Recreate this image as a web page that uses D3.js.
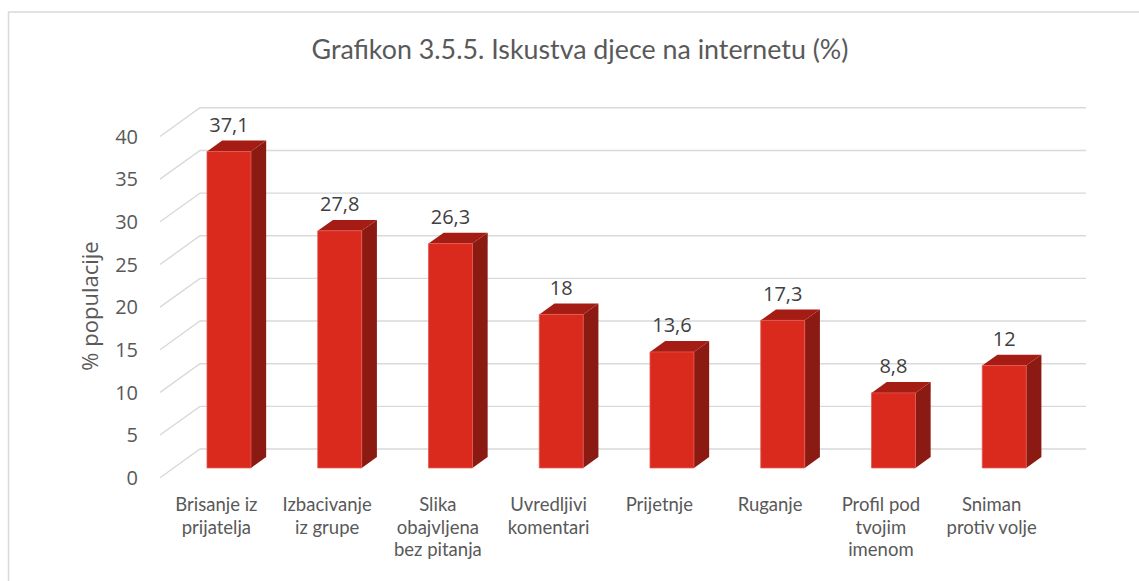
<!DOCTYPE html>
<html>
<head>
<meta charset="utf-8">
<script src="https://cdn.jsdelivr.net/npm/d3@7"></script>
<style>
  html, body { margin: 0; padding: 0; background: #fff; }
  svg { display: block; }
</style>
</head>
<body>
<svg id="chart" width="1139" height="581"></svg>
<script>
// ---- data ----
const title = "Grafikon 3.5.5. Iskustva djece na internetu (%)";
const yAxisTitle = "% populacije";
const categories = [
  "Brisanje iz\nprijatelja",
  "Izbacivanje\niz grupe",
  "Slika\nobajvljena\nbez pitanja",
  "Uvredljivi\nkomentari",
  "Prijetnje",
  "Ruganje",
  "Profil pod\ntvojim\nimenom",
  "Sniman\nprotiv volje"
];
const values = [37.1, 27.8, 26.3, 18, 13.6, 17.3, 8.8, 12];
const valueLabels = ["37,1", "27,8", "26,3", "18", "13,6", "17,3", "8,8", "12"];
const yTicks = [0, 5, 10, 15, 20, 25, 30, 35, 40];

// ---- layout ----
const svg = d3.select("#chart");
const W = 1139, H = 581;
const frontLeft = 160, frontRight = 1046;
const depthX = 40, depthY = -28.7;   // full depth vector of the 3D box
const t0 = 0.34, t1 = 0.72;           // bar depth range (fraction)

const x = d3.scaleBand().domain(categories).range([frontLeft, frontRight])
  .paddingInner(0.603).paddingOuter(0.3015);
const y = d3.scaleLinear().domain([0, 40]).range([477.7, 136.5]);

const proj = (xf, v, t) => [xf + t * depthX, y(v) + t * depthY];

// chart border
svg.append("rect")
  .attr("x", 8.5).attr("y", 12).attr("width", W + 20).attr("height", H + 20)
  .attr("fill", "#fff").attr("stroke", "#d9d9d9").attr("stroke-width", 1.5);

// title
svg.append("text")
  .attr("x", 580).attr("y", 58.5)
  .attr("text-anchor", "middle")
  .attr("font-family", "Lato, 'Noto Sans', sans-serif")
  .attr("font-size", 26.8)
  .attr("fill", "#595959")
  .text(title);

// gridlines (side wall diagonal + back wall horizontal)
const grid = svg.append("g").attr("stroke", "#d9d9d9").attr("stroke-width", 1.4).attr("fill", "none");
yTicks.forEach(v => {
  const a = proj(frontLeft, v, 0), b = proj(frontLeft, v, 1), c = proj(frontRight, v, 1);
  grid.append("path").attr("d", `M${a[0]},${a[1]}L${b[0]},${b[1]}L${c[0]},${c[1]}`);
});

// y tick labels
svg.append("g").selectAll("text").data(yTicks).join("text")
  .attr("x", 138).attr("y", d => y(d)).attr("dy", "0.36em")
  .attr("text-anchor", "end")
  .attr("font-family", "'Open Sans', sans-serif")
  .attr("font-size", 20)
  .attr("fill", "#595959")
  .text(d => d);

// y axis title
svg.append("text")
  .attr("transform", "translate(98,306) rotate(-90)")
  .attr("text-anchor", "middle")
  .attr("font-family", "'Open Sans', sans-serif")
  .attr("font-size", 22)
  .attr("fill", "#595959")
  .text(yAxisTitle);

// bars
const bw = x.bandwidth();
const poly = pts => "M" + pts.map(p => p.join(",")).join("L") + "Z";
const bars = svg.append("g");
categories.forEach((c, i) => {
  const v = values[i];
  const x0 = x(c), x1 = x0 + bw;
  // side face
  bars.append("path")
    .attr("d", poly([proj(x1, 0, t0), proj(x1, 0, t1), proj(x1, v, t1), proj(x1, v, t0)]))
    .attr("fill", "#8b1a13");
  // top face
  bars.append("path")
    .attr("d", poly([proj(x0, v, t0), proj(x1, v, t0), proj(x1, v, t1), proj(x0, v, t1)]))
    .attr("fill", "#a51c14");
  // front face
  bars.append("path")
    .attr("d", poly([proj(x0, 0, t0), proj(x1, 0, t0), proj(x1, v, t0), proj(x0, v, t0)]))
    .attr("fill", "#da291d")
    .attr("stroke", "#e35a50").attr("stroke-width", 0.8);
});

// value labels
svg.append("g").selectAll("text").data(categories).join("text")
  .attr("x", (c) => x(c) + t0 * depthX + bw / 2)
  .attr("y", (c, i) => proj(x(c), values[i], t1)[1] - 8.7)
  .attr("text-anchor", "middle")
  .attr("font-family", "'Open Sans', sans-serif")
  .attr("font-size", 20)
  .attr("fill", "#404040")
  .text((c, i) => valueLabels[i]);

// category labels
const cat = svg.append("g");
categories.forEach(c => {
  const cx = x(c) + bw / 2 + 1;
  const t = cat.append("text")
    .attr("text-anchor", "middle")
    .attr("font-family", "Lato, 'Noto Sans', sans-serif")
    .attr("font-size", 18.5)
    .attr("fill", "#595959");
  c.split("\n").forEach((line, j) => {
    t.append("tspan").attr("x", cx).attr("y", 511 + j * 22.7).text(line);
  });
});
</script>
</body>
</html>
